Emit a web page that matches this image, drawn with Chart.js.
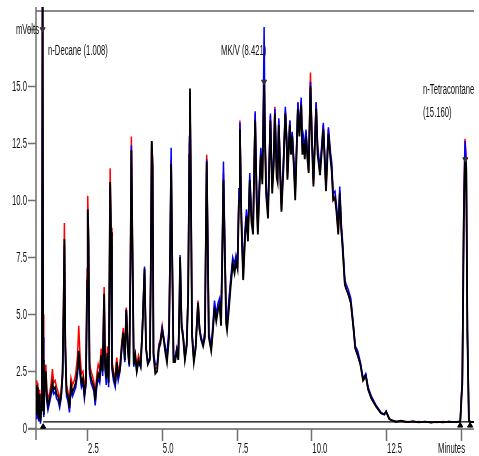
<!DOCTYPE html>
<html>
<head>
<meta charset="utf-8">
<script src="https://cdn.jsdelivr.net/npm/chart.js@4.4.0/dist/chart.umd.min.js"></script>
<style>
  html, body { margin: 0; padding: 0; background: #fff; }
  #wrap { width: 479px; height: 456px; }
</style>
</head>
<body>
<div id="wrap"><canvas id="chart" width="479" height="456"></canvas></div>
<script>
// retention time (minutes)
const times = [
  0.79, 0.82, 0.85, 0.88, 0.91, 0.94, 0.97, 0.99, 1.01, 1.03,
  1.05, 1.08, 1.12, 1.15, 1.19, 1.24, 1.29, 1.34, 1.38, 1.43,
  1.48, 1.53, 1.58, 1.63, 1.68, 1.72, 1.74, 1.77, 1.81, 1.86,
  1.91, 1.96, 2.01, 2.07, 2.12, 2.18, 2.22, 2.26, 2.31, 2.36,
  2.41, 2.46, 2.50, 2.52, 2.545, 2.58, 2.63, 2.68, 2.73, 2.77,
  2.82, 2.87, 2.92, 2.97, 3.02, 3.05, 3.07, 3.10, 3.14, 3.18,
  3.22, 3.25, 3.27, 3.30, 3.33, 3.38, 3.44, 3.49, 3.54, 3.60,
  3.66, 3.71, 3.76, 3.81, 3.86, 3.91, 3.95, 3.98, 4.01, 4.06,
  4.11, 4.16, 4.22, 4.29, 4.35, 4.42, 4.47, 4.53, 4.60, 4.63,
  4.66, 4.69, 4.72, 4.78, 4.84, 4.90, 4.95, 5.01, 5.06, 5.12,
  5.17, 5.24, 5.28, 5.31, 5.34, 5.39, 5.44, 5.50, 5.55, 5.59,
  5.61, 5.66, 5.71, 5.77, 5.83, 5.88, 5.92, 5.94, 5.97, 6.01,
  6.07, 6.13, 6.17, 6.21, 6.26, 6.31, 6.38, 6.44, 6.47, 6.50,
  6.53, 6.57, 6.65, 6.71, 6.76, 6.82, 6.88, 6.93, 6.98, 7.03,
  7.06, 7.10, 7.15, 7.18, 7.24, 7.30, 7.37, 7.43, 7.48, 7.53,
  7.58, 7.61, 7.66, 7.72, 7.78, 7.83, 7.88, 7.94, 8.00, 8.05,
  8.12, 8.17, 8.21, 8.26, 8.31, 8.36, 8.40, 8.42, 8.45, 8.49,
  8.55, 8.63, 8.69, 8.74, 8.78, 8.84, 8.87, 8.91, 8.96, 9.00,
  9.07, 9.13, 9.18, 9.20, 9.28, 9.32, 9.36, 9.42, 9.46, 9.55,
  9.60, 9.66, 9.70, 9.74, 9.78, 9.82, 9.87, 9.91, 9.97, 10.02,
  10.07, 10.16, 10.21, 10.29, 10.40, 10.49, 10.57, 10.64, 10.68, 10.73,
  10.79, 10.84, 10.90, 10.95, 11.00, 11.04, 11.12, 11.17, 11.23, 11.32,
  11.40, 11.47, 11.55, 11.64, 11.73, 11.82, 11.90, 12.01, 12.17, 12.33,
  12.44, 12.50, 12.61, 12.70, 12.83, 13.00, 13.20, 13.40, 13.60, 13.80,
  14.00, 14.20, 14.40, 14.60, 14.80, 14.98, 15.05, 15.10, 15.14, 15.18,
  15.22, 15.27, 15.35, 15.44
];

// detector signal (mVolts), three overlaid runs
const blackRun = [
  1.9, 0.6, 1.8, 0.4, 1.5, 0.3, 0.8, 3.0, 19.5, 3.0,
  0.6, 1.9, 2.5, 1.4, 1.0, 1.3, 1.6, 2.0, 1.7, 1.8,
  1.5, 1.4, 1.1, 1.4, 2.4, 6.0, 8.3, 3.6, 1.6, 1.4,
  0.9, 1.9, 1.6, 1.8, 2.0, 2.6, 3.4, 2.6, 2.0, 2.2,
  1.5, 2.0, 6.5, 9.6, 8.4, 2.6, 2.2, 2.0, 1.8, 1.2,
  2.0, 2.4, 2.2, 3.2, 2.5, 4.5, 5.9, 2.8, 2.2, 3.3,
  2.0, 7.0, 10.8, 8.6, 2.8, 2.3, 2.0, 2.9, 2.3, 2.6,
  3.6, 4.2, 3.0, 5.2, 3.5, 2.8, 7.0, 12.2, 8.7, 2.8,
  3.2, 2.5, 3.0, 2.7, 4.3, 7.0, 3.5, 2.8, 3.0, 7.0,
  12.6, 11.5, 3.2, 2.4, 2.5, 3.5, 3.7, 4.3, 3.9, 3.3,
  2.9, 4.0, 8.0, 11.6, 8.0, 2.9, 2.9, 3.4, 3.0, 5.5,
  7.5, 4.4, 4.0, 3.0, 3.6, 5.8, 12.0, 14.9, 10.5, 4.0,
  2.9, 3.5, 4.5, 5.5, 4.3, 3.9, 3.6, 4.0, 8.0, 11.7,
  8.5, 4.0, 3.4, 4.3, 5.3, 4.7, 5.2, 5.4, 4.5, 8.0,
  10.9, 8.0, 4.6, 4.3, 5.2, 6.2, 7.2, 6.8, 7.3, 7.0,
  10.0, 13.1, 9.0, 6.5, 8.3, 9.3, 8.2, 10.9, 9.0, 8.5,
  13.5, 10.0, 8.5, 10.3, 12.0, 10.7, 13.5, 15.3, 12.5, 10.2,
  9.2, 13.5, 10.3, 11.5, 13.8, 11.0, 10.8, 13.3, 11.0, 9.5,
  11.5, 13.8, 12.3, 10.9, 13.3, 12.0, 12.8, 11.3, 10.0, 14.0,
  12.8, 14.2, 12.0, 12.5, 11.8, 12.8, 11.8, 11.2, 15.0, 12.5,
  10.6, 14.0, 12.0, 11.1, 13.1, 10.4, 12.9, 11.8, 11.3, 10.0,
  10.1, 9.5, 8.5, 10.3, 8.7, 8.0, 6.3, 6.1, 5.9, 5.5,
  4.5, 3.5, 3.2, 2.8, 2.1, 2.3, 1.7, 1.3, 0.95, 0.66,
  0.6, 0.73, 0.4, 0.35, 0.29, 0.33, 0.27, 0.3, 0.26, 0.29,
  0.25, 0.28, 0.26, 0.29, 0.27, 0.3, 2.0, 9.0, 11.8, 11.5,
  4.0, 0.3, 0.28, 0.28
];

const redRun = [
  2.1, 0.8, 2.0, 0.6, 1.7, 0.5, 1.5, 4.0, 20.0, 5.0,
  0.9, 2.2, 2.8, 1.7, 1.3, 1.5, 1.9, 2.6, 2.0, 2.1,
  1.8, 1.6, 1.3, 1.6, 2.6, 6.5, 9.0, 4.0, 1.9, 1.6,
  1.1, 2.2, 1.9, 2.1, 2.4, 3.2, 4.5, 3.3, 2.4, 2.5,
  1.8, 2.3, 7.0, 10.2, 8.6, 2.9, 2.5, 2.3, 2.0, 1.4,
  2.3, 2.8, 2.6, 3.5, 2.8, 5.0, 6.2, 3.0, 2.5, 3.6,
  2.3, 7.5, 11.4, 8.8, 3.0, 2.5, 2.2, 3.1, 2.5, 2.8,
  3.8, 4.4, 3.2, 5.3, 3.7, 3.0, 7.5, 12.8, 8.9, 3.0,
  3.3, 2.7, 3.2, 2.9, 4.4, 6.8, 3.6, 2.9, 3.1, 7.2,
  12.6, 11.8, 3.3, 2.6, 2.7, 3.7, 3.9, 4.5, 4.0, 3.4,
  3.0, 4.1, 8.0, 11.8, 7.8, 3.0, 3.0, 3.5, 3.1, 5.6,
  7.5, 4.6, 4.1, 3.1, 3.7, 6.0, 12.5, 14.7, 11.0, 4.2,
  3.0, 3.6, 4.7, 5.6, 4.4, 4.0, 3.7, 4.2, 8.5, 12.0,
  8.8, 4.1, 3.5, 4.4, 5.4, 4.8, 5.4, 5.6, 4.7, 8.5,
  11.2, 8.3, 4.8, 4.4, 5.4, 6.4, 7.3, 7.0, 7.4, 7.1,
  10.5, 13.5, 9.2, 6.6, 8.4, 9.2, 8.4, 10.8, 9.1, 8.7,
  13.8, 10.2, 8.6, 10.5, 12.0, 10.9, 14.0, 15.5, 12.8, 10.4,
  9.4, 13.7, 10.5, 11.7, 14.1, 11.2, 11.0, 13.5, 11.2, 9.6,
  11.7, 13.9, 12.5, 11.0, 13.5, 12.2, 12.9, 11.5, 10.2, 14.3,
  13.0, 14.3, 12.2, 12.6, 12.0, 13.0, 11.9, 11.3, 15.6, 12.7,
  10.7, 14.3, 12.2, 11.2, 13.3, 10.5, 13.1, 11.9, 11.5, 10.1,
  10.2, 9.6, 8.6, 10.4, 8.8, 8.1, 6.3, 6.1, 5.9, 5.5,
  4.5, 3.5, 3.2, 2.8, 2.1, 2.3, 1.7, 1.3, 0.95, 0.66,
  0.62, 0.73, 0.4, 0.36, 0.31, 0.3, 0.3, 0.28, 0.3, 0.27,
  0.29, 0.26, 0.3, 0.27, 0.29, 0.3, 2.2, 10.0, 12.7, 11.8,
  4.3, 0.32, 0.27, 0.28
];

const blueRun = [
  1.7, 0.4, 1.5, 0.3, 1.2, 0.2, 1.0, 3.5, 19.5, 4.0,
  0.5, 1.8, 2.3, 1.2, 0.8, 1.1, 1.4, 1.8, 1.5, 1.6,
  1.3, 1.2, 0.9, 1.3, 2.3, 5.5, 8.0, 3.4, 1.4, 1.2,
  0.7, 1.7, 1.4, 1.6, 1.8, 2.4, 3.2, 2.4, 1.8, 2.0,
  1.3, 1.9, 6.0, 9.3, 8.0, 2.4, 2.0, 1.8, 1.6, 1.0,
  1.8, 2.2, 2.0, 3.0, 2.3, 4.5, 5.7, 2.6, 1.9, 3.1,
  1.8, 6.5, 10.6, 8.0, 2.6, 2.1, 1.8, 2.7, 2.1, 2.5,
  3.5, 4.1, 2.9, 5.2, 3.4, 2.7, 6.8, 12.4, 8.5, 2.7,
  3.1, 2.5, 2.9, 2.7, 4.5, 7.1, 3.5, 2.9, 3.1, 7.0,
  12.5, 11.4, 3.3, 2.8, 2.8, 3.6, 3.8, 4.4, 4.0, 3.5,
  3.3, 4.4, 8.5, 12.3, 8.4, 3.2, 3.1, 3.5, 3.1, 5.8,
  7.6, 4.6, 4.1, 3.1, 3.7, 6.0, 12.8, 14.5, 11.0, 4.2,
  3.0, 3.6, 4.6, 5.4, 4.4, 4.0, 3.7, 4.3, 8.3, 11.8,
  8.8, 4.2, 3.6, 4.6, 5.6, 5.0, 5.5, 5.7, 4.9, 9.0,
  11.7, 8.6, 4.9, 4.6, 5.6, 6.5, 7.5, 7.2, 7.6, 7.3,
  10.5, 13.4, 9.4, 6.9, 8.7, 9.6, 8.6, 11.2, 9.3, 8.8,
  13.9, 10.5, 8.8, 10.7, 12.3, 11.0, 15.0, 17.6, 13.0, 10.6,
  9.6, 13.8, 10.7, 11.9, 14.0, 11.4, 11.2, 13.6, 11.4, 9.8,
  11.9, 14.1, 12.6, 11.2, 13.5, 12.3, 13.0, 11.6, 10.3, 14.3,
  13.1, 14.5, 12.4, 12.8, 12.1, 13.1, 12.1, 11.5, 15.2, 12.8,
  10.9, 14.3, 12.4, 11.4, 13.4, 10.7, 13.2, 12.1, 11.7, 10.3,
  10.4, 9.8, 8.8, 10.6, 9.0, 8.3, 6.5, 6.3, 6.1, 5.7,
  4.6, 3.6, 3.4, 2.9, 2.2, 2.4, 1.8, 1.4, 1.0, 0.7,
  0.62, 0.75, 0.42, 0.35, 0.28, 0.32, 0.28, 0.31, 0.27, 0.3,
  0.26, 0.29, 0.27, 0.3, 0.28, 0.3, 2.3, 10.0, 12.6, 11.6,
  4.2, 0.31, 0.29, 0.28
];

// integration baseline
const baseTimes = [1.03, 15.44];
const baseValues = [0.28, 0.28];

// peak start/end marks and apex marks
const markTimes = [1.03, 14.98, 15.31];
const markValues = [0.07, 0.12, 0.12];
const apexTimes = [1.01, 8.42, 15.15];
const apexValues = [17.5, 15.2, 11.8];

// axes
const yTicks = [0, 2.5, 5, 7.5, 10, 12.5, 15, 17.5];
const yTickLabels = ['0', '2.5', '5.0', '7.5', '10.0', '12.5', '15.0', 'mVolts'];
const xTicks = [2.5, 5, 7.5, 10, 12.5, 15];
const xTickLabels = ['2.5', '5.0', '7.5', '10.0', '12.5', ''];

// peak names
const peakNames = ['n-Decane (1.008)', 'MK/V (8.421)', 'n-Tetracontane', '(15.160)'];

const pts = (xs, ys) => xs.map((t, i) => ({ x: t, y: ys[i] }));

function squeezed(ctx, text, x, y, align) {
    ctx.save();
    ctx.translate(x, y);
    ctx.scale(0.55, 1);
    ctx.textAlign = align;
    ctx.textBaseline = 'middle';
    ctx.fillText(text, 0, 0);
    ctx.restore();
}

const framePlugin = {
    id: 'frame',
    beforeDatasetsDraw(chart) {
        const { ctx, chartArea: a, scales: { x, y } } = chart;
        ctx.save();
        ctx.strokeStyle = '#8a8a8a';
        ctx.lineWidth = 2;
        ctx.beginPath();
        ctx.moveTo(a.left, a.top); ctx.lineTo(a.right, a.top);
        ctx.moveTo(28, a.bottom); ctx.lineTo(a.right, a.bottom);
        ctx.stroke();

        ctx.strokeStyle = '#707070';
        ctx.lineWidth = 1.5;
        ctx.beginPath();
        ctx.moveTo(a.left, a.top - 4); ctx.lineTo(a.left, a.bottom + 11);
        yTicks.forEach(v => {
            const py = Math.round(y.getPixelForValue(v)) + 0.5;
            ctx.moveTo(a.left - 8, py); ctx.lineTo(a.left, py);
        });
        xTicks.forEach(v => {
            const px = Math.round(x.getPixelForValue(v)) + 0.5;
            ctx.moveTo(px, a.bottom); ctx.lineTo(px, a.bottom + 12);
        });
        ctx.stroke();
        ctx.restore();
    },
    afterDatasetsDraw(chart) {
        const { ctx, scales: { x, y } } = chart;
        ctx.save();
        ctx.fillStyle = '#111';
        ctx.font = '14px "Liberation Sans", Arial, sans-serif';
        yTicks.forEach((v, i) => {
            const last = i === yTicks.length - 1;
            squeezed(ctx, yTickLabels[i], last ? 39 : 27, y.getPixelForValue(v) + 1, 'right');
        });
        xTicks.forEach((v, i) => {
            squeezed(ctx, xTickLabels[i], x.getPixelForValue(v) + 1, 449, 'left');
        });
        squeezed(ctx, 'Minutes', 465, 449, 'right');
        squeezed(ctx, peakNames[0], 48, 51, 'left');
        squeezed(ctx, peakNames[1], 221, 51, 'left');
        squeezed(ctx, peakNames[2], 423, 90, 'left');
        squeezed(ctx, peakNames[3], 423, 113, 'left');
        ctx.restore();
    }
};

const trace = (label, ys, color, width) => ({
    label,
    data: pts(times, ys),
    borderColor: color,
    borderWidth: width,
    pointRadius: 0,
    tension: 0,
    clip: { left: 0, top: 4, right: 0, bottom: 0 }
});

// first dataset is painted last (on top)
new Chart(document.getElementById('chart').getContext('2d'), {
    type: 'line',
    data: {
        datasets: [
            {
                type: 'scatter',
                label: 'apex',
                data: pts(apexTimes, apexValues),
                pointStyle: 'triangle',
                rotation: 180,
                pointRadius: 3,
                backgroundColor: '#333',
                borderColor: '#333',
                clip: false
            },
            {
                type: 'scatter',
                label: 'marks',
                data: pts(markTimes, markValues),
                pointStyle: 'triangle',
                pointRadius: 3,
                backgroundColor: '#000',
                borderColor: '#000',
                clip: false
            },
            {
                label: 'baseline',
                data: pts(baseTimes, baseValues),
                borderColor: '#000',
                borderWidth: 1.2,
                pointRadius: 0
            },
            trace('run 3', blackRun, '#000000', 1.8),
            trace('run 2', blueRun, '#0000ff', 1.5),
            trace('run 1', redRun, '#ff0000', 1.5)
        ]
    },
    options: {
        responsive: false,
        animation: false,
        events: [],
        layout: { padding: { left: 36, top: 11, right: 0, bottom: 27 } },
        scales: {
            x: { type: 'linear', min: 0.79, max: 15.44, display: false },
            y: { min: -0.03, max: 18.3, display: false }
        },
        plugins: { legend: { display: false }, tooltip: { enabled: false } }
    },
    plugins: [framePlugin]
});
</script>
</body>
</html>
